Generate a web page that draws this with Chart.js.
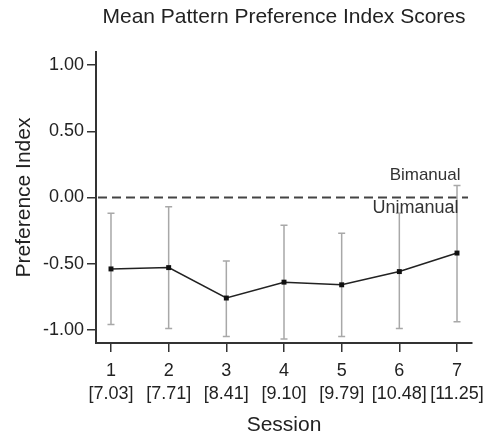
<!DOCTYPE html>
<html>
<head>
<meta charset="utf-8">
<script src="https://cdn.jsdelivr.net/npm/chart.js@4/dist/chart.umd.min.js"></script>
<style>
html,body{margin:0;padding:0;background:#fff;}
#wrap{width:498px;height:439px;}
</style>
</head>
<body>
<div id="wrap"><canvas id="c" width="498" height="439"></canvas></div>
<script>
const sessions = [1, 2, 3, 4, 5, 6, 7];
const ages = ["[7.03]", "[7.71]", "[8.41]", "[9.10]", "[9.79]", "[10.48]", "[11.25]"];
const means = [-0.54, -0.53, -0.76, -0.64, -0.66, -0.56, -0.42];
const upper = [-0.12, -0.07, -0.48, -0.21, -0.27, -0.12, 0.09];
const lower = [-0.96, -0.99, -1.05, -1.07, -1.05, -0.99, -0.94];
const yTicks = [-1.0, -0.5, 0.0, 0.5, 1.0];
const refLabels = ["Bimanual", "Unimanual"];

const FONT = "'Liberation Sans', Arial, Helvetica, sans-serif";

const errorBars = {
  id: 'errorBars',
  beforeDatasetsDraw(chart) {
    const {ctx, scales: {x, y}} = chart;
    ctx.save();
    // reference dashed line at 0
    ctx.strokeStyle = '#444';
    ctx.lineWidth = 2;
    ctx.setLineDash([9, 5]);
    ctx.beginPath();
    ctx.moveTo(chart.chartArea.left + 2, y.getPixelForValue(0));
    ctx.lineTo(chart.chartArea.right - 4, y.getPixelForValue(0));
    ctx.stroke();
    ctx.setLineDash([]);
    // error bars
    ctx.strokeStyle = '#a8a8a8';
    ctx.lineWidth = 1.5;
    sessions.forEach((s, i) => {
      const px = x.getPixelForValue(s);
      const t = y.getPixelForValue(upper[i]);
      const b = y.getPixelForValue(lower[i]);
      ctx.beginPath();
      ctx.moveTo(px, t); ctx.lineTo(px, b);
      ctx.moveTo(px - 3.5, t); ctx.lineTo(px + 3.5, t);
      ctx.moveTo(px - 3.5, b); ctx.lineTo(px + 3.5, b);
      ctx.stroke();
    });
    // labels
    ctx.fillStyle = '#333';
    ctx.font = "17px " + FONT;
    ctx.textAlign = 'right';
    ctx.textBaseline = 'middle';
    const xr = x.getPixelForValue(sessions[sessions.length - 1]);
    ctx.fillText(refLabels[0], xr + 3.5, y.getPixelForValue(0.165));
    ctx.font = "18px " + FONT;
    ctx.fillText(refLabels[1], xr + 1.5, y.getPixelForValue(-0.078));
    ctx.restore();
  }
};

new Chart(document.getElementById('c'), {
  type: 'line',
  data: {
    datasets: [{
      data: sessions.map((s, i) => ({x: s, y: means[i]})),
      borderColor: '#222',
      backgroundColor: '#111',
      borderWidth: 1.5,
      pointStyle: 'rect',
      pointRadius: 3.5,
      pointBorderWidth: 0,
      tension: 0
    }]
  },
  options: {
    responsive: false,
    animation: false,
    layout: {padding: {left: 0, right: 26, top: 0, bottom: 0}},
    plugins: {
      legend: {display: false},
      tooltip: {enabled: false},
      title: {
        display: true,
        fullSize: false,
        text: 'Mean Pattern Preference Index Scores',
        color: '#222',
        font: {family: FONT, size: 21, weight: 'normal', lineHeight: 1.2},
        padding: {top: 5, bottom: 21.8}
      }
    },
    scales: {
      x: {
        type: 'linear',
        min: 0.74,
        max: 7.26,
        afterBuildTicks(scale) { scale.ticks = sessions.map(v => ({value: v})); },
        afterFit(scale) { scale.height = 96; },
        ticks: {
          color: '#222',
          font: {family: FONT, size: 18, lineHeight: 1.3},
          padding: 7,
          maxRotation: 0,
          autoSkip: false,
          callback(v) { const i = sessions.indexOf(v); return [String(v), ages[i]]; }
        },
        grid: {drawOnChartArea: false, drawTicks: true, tickLength: 9, color: '#333', lineWidth: 1.5},
        border: {display: true, color: '#333', width: 2},
        title: {
          display: true, text: 'Session', color: '#222',
          font: {family: FONT, size: 21}, padding: {top: 0, bottom: 1}
        }
      },
      y: {
        min: -1.1,
        max: 1.1,
        afterBuildTicks(scale) { scale.ticks = yTicks.map(v => ({value: v})); },
        afterFit(scale) { scale.width = 96; },
        ticks: {
          color: '#222',
          font: {family: FONT, size: 18},
          padding: 3,
          callback(v) { return v.toFixed(2); }
        },
        grid: {drawOnChartArea: false, drawTicks: true, tickLength: 9, color: '#333', lineWidth: 1.5},
        border: {display: true, color: '#333', width: 2},
        title: {
          display: true, text: 'Preference Index', color: '#222',
          font: {family: FONT, size: 21}, padding: {top: 12, bottom: 0}
        }
      }
    }
  },
  plugins: [errorBars]
});
</script>
</body>
</html>
